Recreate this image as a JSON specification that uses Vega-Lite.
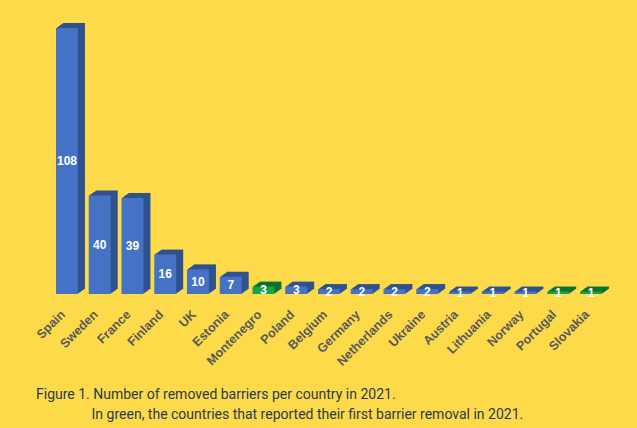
{
  "$schema": "https://vega.github.io/schema/vega-lite/v6.json",
  "autosize": "none",
  "width": 556.75,
  "height": 283.3,
  "padding": {"left": 50.6, "top": 10.7, "right": 29.65, "bottom": 134},
  "background": "#FDDA4A",
  "config": {"view": {"stroke": null}},
  "title": {
    "text": "Figure 1. Number of removed barriers per country in 2021.",
    "subtitle": "\u200b\u00a0\u00a0\u00a0\u00a0\u00a0\u00a0\u00a0\u00a0\u00a0\u00a0\u00a0\u00a0\u00a0\u00a0\u00a0\u00a0In green, the countries that reported their first barrier removal in 2021.",
    "orient": "bottom",
    "anchor": "start",
    "frame": "group",
    "dx": -14.6,
    "offset": 20,
    "font": "Roboto",
    "fontSize": 14,
    "fontWeight": "normal",
    "color": "#2B3A4E",
    "subtitleFont": "Roboto",
    "subtitleFontSize": 14,
    "subtitleColor": "#2B3A4E",
    "subtitlePadding": 6
  },
  "data": {
    "values": [
      {"country": "Spain", "value": 108, "new": false},
      {"country": "Sweden", "value": 40, "new": false},
      {"country": "France", "value": 39, "new": false},
      {"country": "Finland", "value": 16, "new": false},
      {"country": "UK", "value": 10, "new": false},
      {"country": "Estonia", "value": 7, "new": false},
      {"country": "Montenegro", "value": 3, "new": true},
      {"country": "Poland", "value": 3, "new": false},
      {"country": "Belgium", "value": 2, "new": false},
      {"country": "Germany", "value": 2, "new": false},
      {"country": "Netherlands", "value": 2, "new": false},
      {"country": "Ukraine", "value": 2, "new": false},
      {"country": "Austria", "value": 1, "new": false},
      {"country": "Lithuania", "value": 1, "new": false},
      {"country": "Norway", "value": 1, "new": false},
      {"country": "Portugal", "value": 1, "new": true},
      {"country": "Slovakia", "value": 1, "new": true}
    ]
  },
  "encoding": {
    "x": {
      "field": "country",
      "type": "nominal",
      "sort": null,
      "scale": {"paddingInner": 0, "paddingOuter": 0},
      "axis": {
        "title": null,
        "domain": false,
        "ticks": false,
        "labelAngle": -45,
        "labelAlign": "right",
        "labelBaseline": "middle",
        "labelPadding": 18,
        "labelOffset": -4,
        "labelFont": "Liberation Sans",
        "labelFontWeight": "bold",
        "labelFontSize": 12.5,
        "labelColor": "#595959"
      }
    },
    "y": {
      "field": "value",
      "type": "quantitative",
      "scale": {"domain": [0, 115], "nice": false},
      "axis": null
    }
  },
  "layer": [
    {"mark": {"type": "bar", "width": {"band": 0.67}, "xOffset": 1, "yOffset": -0.71, "y2Offset": -0.71},
     "encoding": {"color": {"condition": {"test": "datum.new", "value": "#0E7030"}, "value": "#2F528F"}}},
    {"mark": {"type": "bar", "width": {"band": 0.67}, "xOffset": 2, "yOffset": -1.43, "y2Offset": -1.43},
     "encoding": {"color": {"condition": {"test": "datum.new", "value": "#0E7030"}, "value": "#2F528F"}}},
    {"mark": {"type": "bar", "width": {"band": 0.67}, "xOffset": 3, "yOffset": -2.14, "y2Offset": -2.14},
     "encoding": {"color": {"condition": {"test": "datum.new", "value": "#0E7030"}, "value": "#2F528F"}}},
    {"mark": {"type": "bar", "width": {"band": 0.67}, "xOffset": 4, "yOffset": -2.86, "y2Offset": -2.86},
     "encoding": {"color": {"condition": {"test": "datum.new", "value": "#0E7030"}, "value": "#2F528F"}}},
    {"mark": {"type": "bar", "width": {"band": 0.67}, "xOffset": 5, "yOffset": -3.57, "y2Offset": -3.57},
     "encoding": {"color": {"condition": {"test": "datum.new", "value": "#0E7030"}, "value": "#2F528F"}}},
    {"mark": {"type": "bar", "width": {"band": 0.67}, "xOffset": 6, "yOffset": -4.29, "y2Offset": -4.29},
     "encoding": {"color": {"condition": {"test": "datum.new", "value": "#0E7030"}, "value": "#2F528F"}}},
    {"mark": {"type": "bar", "width": {"band": 0.67}, "xOffset": 7, "yOffset": -5, "y2Offset": -5},
     "encoding": {"color": {"condition": {"test": "datum.new", "value": "#0E7030"}, "value": "#2F528F"}}},
    {"mark": {"type": "bar", "width": {"band": 0.67}, "xOffset": 0},
     "encoding": {"color": {"condition": {"test": "datum.new", "value": "#17A347"}, "value": "#4472C4"}}},
    {"transform": [{"calculate": "datum.value / 2", "as": "mid"}],
     "mark": {"type": "text", "color": "white", "font": "Liberation Sans", "fontWeight": "bold", "fontSize": 12, "baseline": "middle", "align": "center"},
     "encoding": {
       "y": {"field": "mid", "type": "quantitative"},
       "text": {"field": "value", "type": "quantitative"}
     }}
  ]
}
